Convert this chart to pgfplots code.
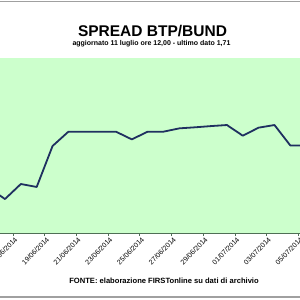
\documentclass[border=0pt]{standalone}
\usepackage{pgfplots}
\pgfplotsset{compat=1.18}
\usepackage{fontspec}
\setmainfont{Liberation Sans}
\definecolor{bg}{HTML}{CCFFCC}
\definecolor{gridc}{HTML}{6FA080}
\definecolor{linec}{HTML}{1F3060}
\definecolor{framec}{HTML}{A0A0A0}
\definecolor{axisc}{HTML}{4F6F55}
\pgfplotstableread{
x y
-1 1.457
0 1.394
1 1.480
2 1.463
3 1.697
4 1.779
5 1.779
6 1.779
7 1.779
8 1.735
9 1.779
10 1.779
11 1.798
12 1.804
13 1.811
14 1.817
15 1.756
16 1.802
17 1.817
18 1.700
19 1.700
}\spread
\begin{document}
\begin{tikzpicture}
\useasboundingbox (0,0) rectangle (300pt,300pt);
\clip (0,0) rectangle (300pt,300pt);
\fill[white] (0,0) rectangle (300pt,300pt);
\draw[framec, line width=1.6pt] (0,298.3pt) -- (300pt,298.3pt);
\draw[framec, line width=1.6pt] (0,3.2pt) -- (300pt,3.2pt);
\node[font=\bfseries\fontsize{15.5}{16}\selectfont] at (152.5pt,269pt) {SPREAD BTP/BUND};
\node[font=\bfseries\fontsize{7}{8}\selectfont] at (151.5pt,256pt) {aggiornato 11 luglio ore 12,00 - ultimo dato 1,71};
\node[font=\bfseries\fontsize{7.6}{8}\selectfont] at (164pt,19pt) {FONTE: elaborazione FIRSTonline su dati di archivio};
\begin{axis}[
  at={(0pt,67pt)}, anchor=south west,
  scale only axis, width=300pt, height=175pt,
  xmin=-0.315, xmax=18.61, ymin=1.2, ymax=2.2,
  axis background/.style={fill=bg},
  axis x line*=bottom, axis y line=none,
  x axis line style={draw=axisc, line width=0.8pt, -},
  xtick={0.5,2.5,4.5,6.5,8.5,10.5,12.5,14.5,16.5,18.5},
  xticklabels={17/06/2014,19/06/2014,21/06/2014,23/06/2014,25/06/2014,27/06/2014,29/06/2014,01/07/2014,03/07/2014,05/07/2014},
  xtick align=outside, major tick length=3pt,
  x tick style={draw=axisc, line width=0.6pt},
  xticklabel style={rotate=45, anchor=east, font=\fontsize{7}{8}\selectfont, xshift=4pt, yshift=-4pt},
  ytick={1.4,1.6,1.8,2.0,2.2}, yticklabels={},
  ymajorgrids, grid style={draw=gridc, line width=0.8pt},
  clip=true,
]
\addplot[linec, line width=1.8pt, line join=round] table[x=x,y=y] {\spread};
\end{axis}
\end{tikzpicture}
\end{document}
